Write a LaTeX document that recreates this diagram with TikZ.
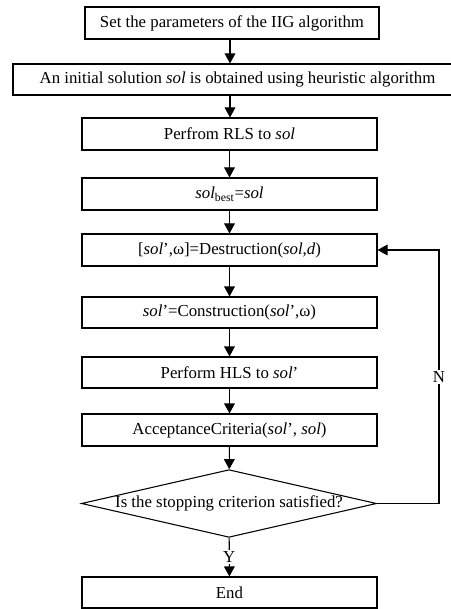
\documentclass[tikz,border=0pt]{standalone}
\usepackage{fontspec}
\setmainfont{Liberation Serif}
\usetikzlibrary{shapes.geometric,arrows.meta}
\tikzset{
  txt/.style={font=\fontsize{12.6}{15}\selectfont},
  stepbox/.style={draw, line width=0.8pt, minimum width=295*0.75pt, minimum height=32*0.75pt, inner sep=0pt, txt},
  decision/.style={draw, diamond, line width=0.8pt, minimum width=292*0.75pt, minimum height=67*0.75pt, aspect=4.36, inner sep=0pt, txt},
  flow/.style={line width=0.8pt, -{Triangle[width=8pt,length=7.5pt]}},
  lbl/.style={fill=white, inner sep=1pt, txt}
}
\newcommand{\sol}{\textit{sol}}
\begin{document}
\begin{tikzpicture}[x=0.75pt,y=-0.75pt]
\useasboundingbox (0,0) rectangle (450,609);
\node[stepbox, minimum width=294*0.75pt] (b1) at (232,23) {Set the parameters of the IIG algorithm};
\node[stepbox, minimum width=449*0.75pt, minimum height=31*0.75pt] (b2) at (237.5,79.5) {An initial solution \sol{} is obtained using heuristic algorithm};
\node[stepbox] (b3) at (229.5,134) {Perfrom RLS to \sol};
\node[stepbox] (b4) at (229.5,194) {\sol\textsubscript{best}=\sol};
\node[stepbox] (b5) at (229.5,250) {[\sol’,ω]=Destruction(\sol,\textit{d})};
\node[stepbox, minimum height=31*0.75pt] (b6) at (229.5,312.5) {\sol’=Construction(\sol’,ω)};
\node[stepbox, minimum height=31*0.75pt] (b7) at (229.5,372.5) {Perform HLS to \sol’};
\node[stepbox] (b8) at (229.5,430) {AcceptanceCriteria(\sol’, \sol)};
\node[decision] (dec) at (229,503.5) {Is the stopping criterion satisfied?};
\node[stepbox, minimum height=31*0.75pt] (end) at (229.5,592.5) {End};
\coordinate (c1) at (439,503.5);
\coordinate (c2) at (439,250);
\draw[flow] (b1.south -| 230,0) -- (b2.north -| 230,0);
\draw[flow] (b2.south -| 230,0) -- (b3.north -| 230,0);
\draw[flow] (b3) -- (b4);
\draw[flow] (b4) -- (b5);
\draw[flow] (b5) -- (b6);
\draw[flow] (b6) -- (b7);
\draw[flow] (b7) -- (b8);
\draw[flow] (b8) -- (dec);
\draw[flow] (dec) -- node[lbl]{Y} (end);
\draw[flow] (dec.east) -- (c1) -- node[lbl]{N} (c2) -- (b5.east);
\end{tikzpicture}
\end{document}
